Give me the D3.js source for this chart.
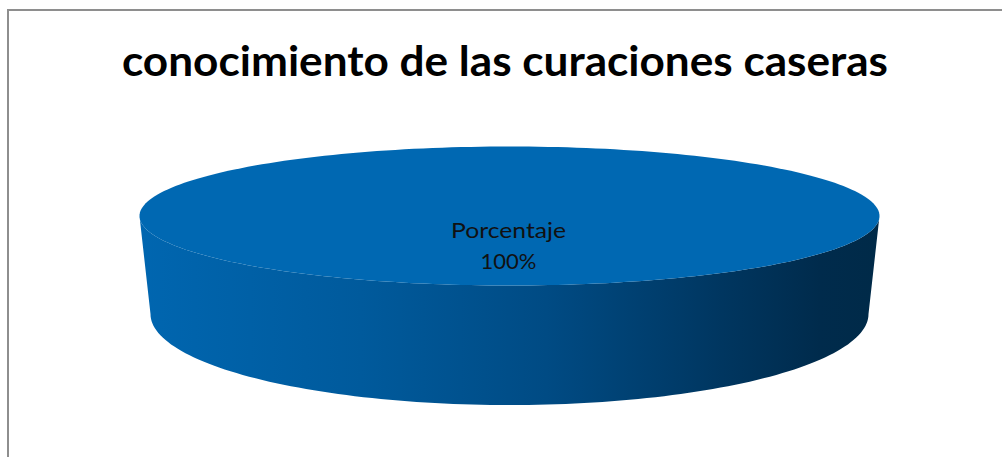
<!DOCTYPE html>
<html>
<head>
<meta charset="utf-8">
<script src="https://cdn.jsdelivr.net/npm/d3@7"></script>
<style>
  html, body { margin: 0; padding: 0; background: #fff; }
  svg { display: block; }
</style>
</head>
<body>
<svg id="chart" width="1002" height="457"></svg>
<script>
// Chart data
const title = "conocimiento de las curaciones caseras";
const categories = ["Porcentaje"];
const values = [100];
const valueLabels = ["100%"];
const colors = ["#0068b2"];

const svg = d3.select("#chart");

// Chart frame (runs past the right and bottom edges of the view)
svg.append("rect")
  .attr("x", 8).attr("y", 10)
  .attr("width", 1100).attr("height", 500)
  .attr("fill", "#fff")
  .attr("stroke", "#8e8e8e")
  .attr("stroke-width", 2);

// Title
svg.append("text")
  .attr("x", 505).attr("y", 76)
  .attr("text-anchor", "middle")
  .attr("font-family", "Lato, 'Open Sans', sans-serif")
  .attr("font-weight", "bold")
  .attr("font-size", 42)
  .attr("textLength", 766)
  .attr("lengthAdjust", "spacingAndGlyphs")
  .attr("fill", "#000")
  .text(title);

// 3D pie geometry: top ellipse and the (perspective-narrowed) base ellipse
const cx = 509.5;
const topE = { cy: 216, rx: 370, ry: 69.5 };
const baseE = { cy: 314, rx: 359, ry: 91 };

const pie = d3.pie().sort(null).value(d => d);
const slices = pie(values);

// point on an ellipse for a pie angle (0 = top, clockwise)
const pt = (e, a) => [cx + e.rx * Math.sin(a), e.cy - e.ry * Math.cos(a)];

const defs = svg.append("defs");
const grad = defs.append("linearGradient")
  .attr("id", "sideGrad")
  .attr("gradientUnits", "userSpaceOnUse")
  .attr("x1", cx - topE.rx).attr("y1", 0)
  .attr("x2", cx + topE.rx).attr("y2", 0);
[[0, "#0066b0"], [0.3, "#005a9c"], [0.55, "#004b84"], [0.8, "#00355e"], [0.92, "#002b4c"], [1, "#002a48"]]
  .forEach(([o, c]) => grad.append("stop").attr("offset", o).attr("stop-color", c));

// Side wall: visible front half (angles PI/2 .. 3PI/2) clipped to each slice
const line = d3.line().curve(d3.curveLinear);
slices.forEach((s, i) => {
  const a0 = Math.max(s.startAngle, Math.PI / 2);
  const a1 = Math.min(s.endAngle, 3 * Math.PI / 2);
  if (a1 <= a0) return;
  const n = 120;
  const angles = d3.range(n + 1).map(k => a0 + (a1 - a0) * k / n);
  const pts = angles.map(a => pt(topE, a)).concat(angles.slice().reverse().map(a => pt(baseE, a)));
  svg.append("path")
    .attr("d", line(pts) + "Z")
    .attr("fill", "url(#sideGrad)");
});

// Top face of each slice
slices.forEach((s, i) => {
  const n = 240;
  const angles = d3.range(n + 1).map(k => s.startAngle + (s.endAngle - s.startAngle) * k / n);
  const pts = angles.map(a => pt(topE, a));
  const full = (s.endAngle - s.startAngle) >= 2 * Math.PI - 1e-6;
  const d = full ? line(pts) + "Z" : "M" + cx + "," + topE.cy + "L" + line(pts).slice(1) + "Z";
  svg.append("path")
    .attr("d", d)
    .attr("fill", colors[i]);
});

// Data labels
slices.forEach((s, i) => {
  const mid = (s.endAngle - s.startAngle) >= 2 * Math.PI - 1e-6 ? null : (s.startAngle + s.endAngle) / 2;
  const [lx, ly] = mid === null ? [cx - 1, topE.cy + 22] : pt({ rx: topE.rx * 0.6, ry: topE.ry * 0.6, cy: topE.cy }, mid);
  const t = svg.append("text")
    .attr("x", lx).attr("y", ly)
    .attr("text-anchor", "middle")
    .attr("font-family", "Lato, 'Open Sans', sans-serif")
    .attr("font-size", 22)
    .attr("fill", "#111");
  t.append("tspan").attr("x", lx).attr("dy", 0).attr("textLength", 115).attr("lengthAdjust", "spacingAndGlyphs").text(categories[i]);
  t.append("tspan").attr("x", lx).attr("dy", 31).text(valueLabels[i]);
});
</script>
</body>
</html>
